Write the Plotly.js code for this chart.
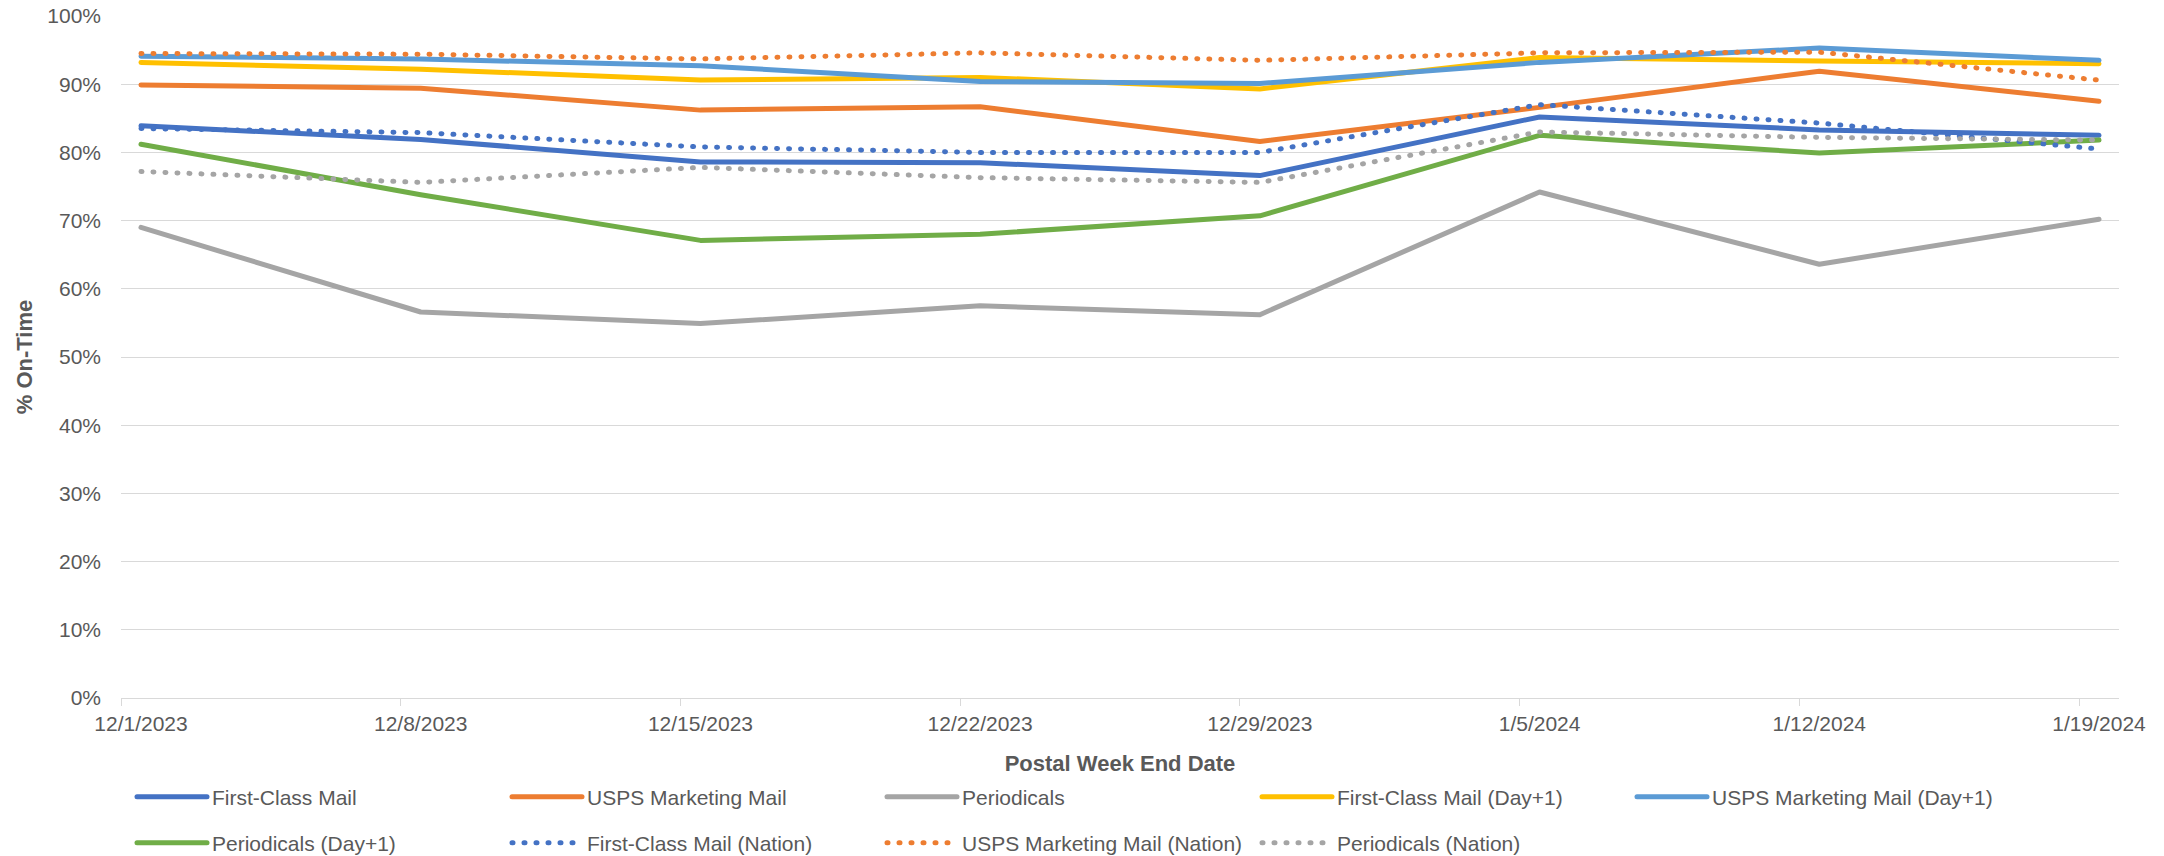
<!DOCTYPE html>
<html>
<head>
<meta charset="utf-8">
<script src="https://cdn.plot.ly/plotly-3.0.1.min.js"></script>
<style>
html,body{margin:0;padding:0;background:#fff;}
#chart{width:2164px;height:856px;}
path.js-line{stroke-linecap:round;stroke-linejoin:round;}
</style>
</head>
<body>
<div id="chart"></div>
<script>
// Week end dates and their labels
const weekDates = ['2023-12-01','2023-12-08','2023-12-15','2023-12-22','2023-12-29','2024-01-05','2024-01-12','2024-01-19'];
const weekLabels = ['12/1/2023','12/8/2023','12/15/2023','12/22/2023','12/29/2023','1/5/2024','1/12/2024','1/19/2024'];

// % on-time values
const firstClass        = [83.9, 81.9, 78.6, 78.5, 76.6, 85.2, 83.3, 82.5];
const marketing         = [89.9, 89.4, 86.2, 86.7, 81.6, 86.6, 91.9, 87.5];
const periodicals       = [69.0, 56.6, 54.9, 57.5, 56.2, 74.2, 63.6, 70.2];
const firstClassDay1    = [93.2, 92.2, 90.6, 91.0, 89.3, 93.9, 93.4, 93.0];
const marketingDay1     = [94.1, 93.7, 92.7, 90.4, 90.1, 93.2, 95.3, 93.5];
const periodicalsDay1   = [81.2, 73.8, 67.1, 68.0, 70.7, 82.5, 79.9, 81.8];
const firstClassNation  = [83.5, 82.9, 80.8, 80.0, 80.0, 87.0, 84.3, 80.5];
const marketingNation   = [94.5, 94.4, 93.7, 94.6, 93.5, 94.6, 94.7, 90.6];
const periodicalsNation = [77.2, 75.6, 77.8, 76.3, 75.6, 83.0, 82.2, 81.8];

const yTicks = [0,10,20,30,40,50,60,70,80,90,100];
const yTickLabels = ['0%','10%','20%','30%','40%','50%','60%','70%','80%','90%','100%'];

const seriesDefs = [
  {name:'First-Class Mail', y:firstClass, color:'#4472C4', dash:'solid', legend:'legend'},
  {name:'USPS Marketing Mail', y:marketing, color:'#ED7D31', dash:'solid', legend:'legend'},
  {name:'Periodicals', y:periodicals, color:'#A5A5A5', dash:'solid', legend:'legend'},
  {name:'First-Class Mail (Day+1)', y:firstClassDay1, color:'#FFC000', dash:'solid', legend:'legend'},
  {name:'USPS Marketing Mail (Day+1)', y:marketingDay1, color:'#5B9BD5', dash:'solid', legend:'legend'},
  {name:'Periodicals (Day+1)', y:periodicalsDay1, color:'#70AD47', dash:'solid', legend:'legend2'},
  {name:'First-Class Mail (Nation)', y:firstClassNation, color:'#4472C4', dash:'1px,11px', legend:'legend2'},
  {name:'USPS Marketing Mail (Nation)', y:marketingNation, color:'#ED7D31', dash:'1px,11px', legend:'legend2'},
  {name:'Periodicals (Nation)', y:periodicalsNation, color:'#A5A5A5', dash:'1px,11px', legend:'legend2'}
];

const traces = seriesDefs.map(s => ({
  type:'scatter', mode:'lines', name:s.name,
  x:weekDates, y:s.y,
  xperiod:86400000, xperiodalignment:'middle',
  line:{color:s.color, width:5, dash:s.dash},
  legend:s.legend,
  hoverinfo:'skip'
}));

const FONT = '"Liberation Sans", Arial, sans-serif';
const TXT = '#595959';

const legendCommon = {
  orientation:'h', xref:'container', yref:'container',
  x:132/2164, xanchor:'left', yanchor:'middle',
  font:{family:FONT, size:21, color:TXT},
  itemwidth:70, entrywidth:290, entrywidthmode:'pixels',
  bgcolor:'rgba(0,0,0,0)', borderwidth:0, traceorder:'normal',
  itemclick:false, itemdoubleclick:false
};

const layout = {
  width:2164, height:856,
  paper_bgcolor:'#ffffff', plot_bgcolor:'#ffffff',
  margin:{l:121, r:45, t:16, b:158},
  font:{family:FONT, size:21, color:TXT},
  showlegend:true,
  legend:Object.assign({}, legendCommon, {y:1-797/856}),
  legend2:Object.assign({}, legendCommon, {y:1-843/856}),
  xaxis:{
    type:'date', range:['2023-12-01','2024-01-20'],
    tickmode:'array', tickvals:weekDates, ticktext:weekLabels,
    ticklabelshift:20,
    ticks:'outside', ticklen:7, tickwidth:1, tickcolor:'#d9d9d9',
    showline:true, linecolor:'#d9d9d9', linewidth:1,
    showgrid:false, zeroline:false,
    tickfont:{family:FONT, size:21, color:TXT},
    title:{text:'Postal Week End Date', font:{family:FONT, size:22, color:TXT, weight:'bold'}, standoff:21},
    automargin:false, fixedrange:true
  },
  yaxis:{
    range:[0,100], tickmode:'array', tickvals:yTicks, ticktext:yTickLabels,
    showgrid:true, gridcolor:'#d9d9d9', gridwidth:1,
    zeroline:false, showline:false, ticks:'',
    ticklabelstandoff:19,
    tickfont:{family:FONT, size:21, color:TXT},
    title:{text:'% On-Time', font:{family:FONT, size:22, color:TXT, weight:'bold'}, standoff:8},
    automargin:false, fixedrange:true
  }
};

Plotly.newPlot('chart', traces, layout, {displayModeBar:false, staticPlot:true});
</script>
</body>
</html>
